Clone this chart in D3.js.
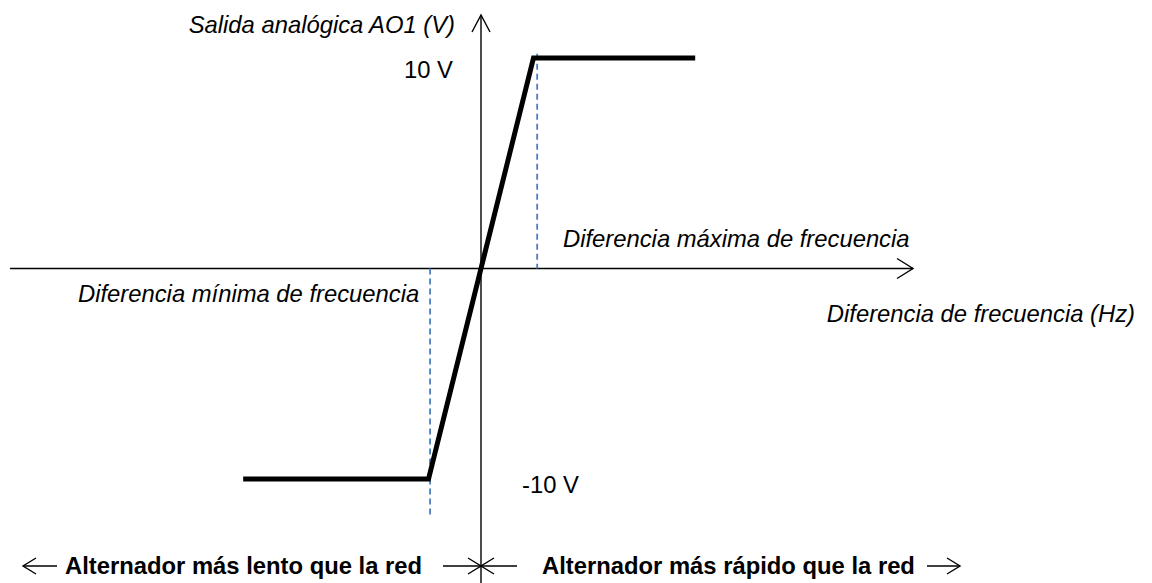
<!DOCTYPE html>
<html>
<head>
<meta charset="utf-8">
<script src="https://cdn.jsdelivr.net/npm/d3@7"></script>
<style>
  html, body { margin: 0; padding: 0; background: #fff; }
  svg { display: block; }
  text { font-family: "Liberation Sans", Arial, sans-serif; fill: #000; }
</style>
</head>
<body>
<svg id="chart" width="1152" height="583"></svg>
<script>
// ---- data ----
const freqDiff = [-4.53, -1, 1, 4.08];          // normalized frequency difference
const aoVolts  = [-10, -10, 10, 10];             // analog output AO1 (V)
const markerFreq = [-0.97, 1.07];                // min / max frequency difference markers
const markerFrom = [0, 10.2];
const markerTo   = [-11.8, 0];
const yTickValues = [10, -10];
const yTickLabels = ["10 V", "-10 V"];

const W = 1152, H = 583;
const FS = 23.8;
const svg = d3.select("#chart");

const x = d3.scaleLinear().domain([-9, 9]).range([481 - 9 * 52.5, 481 + 9 * 52.5]);
const y = d3.scaleLinear().domain([-10, 10]).range([479, 58]);

const x0 = x(0), y0 = y(0);

// axes
const axisG = svg.append("g").attr("stroke", "#000").attr("stroke-width", 1.4).attr("fill", "none");
axisG.append("line").attr("x1", 10).attr("x2", 913).attr("y1", y0).attr("y2", y0);
axisG.append("path").attr("d", `M${913 - 16},${y0 - 10} L913,${y0} L${913 - 16},${y0 + 10}`);
axisG.append("line").attr("x1", x0).attr("x2", x0).attr("y1", 15).attr("y2", H);
axisG.append("path").attr("d", `M${x0 - 9},32 L${x0},15 L${x0 + 9},32`);

// dashed markers
svg.selectAll("line.marker").data(markerFreq).enter().append("line")
  .attr("class", "marker")
  .attr("x1", d => x(d)).attr("x2", d => x(d))
  .attr("y1", (d, i) => y(markerFrom[i])).attr("y2", (d, i) => y(markerTo[i]))
  .attr("stroke", "#4a7ebf").attr("stroke-width", 1.8)
  .attr("stroke-dasharray", "6,4");

// characteristic
const pts = freqDiff.map((f, i) => [f, aoVolts[i]]);
svg.append("path").datum(pts)
  .attr("d", d3.line().x(d => x(d[0])).y(d => y(d[1])))
  .attr("fill", "none").attr("stroke", "#000").attr("stroke-width", 5)
  .attr("stroke-linejoin", "miter");

// tick labels
svg.append("text").attr("x", 453).attr("y", 78).attr("text-anchor", "end")
  .attr("font-size", FS).text(yTickLabels[0]);
svg.append("text").attr("x", 522).attr("y", 493).attr("text-anchor", "start")
  .attr("font-size", FS).text(yTickLabels[1]);

// axis titles / annotations
const it = (tx, ty, s, anchor) => svg.append("text").attr("x", tx).attr("y", ty)
  .attr("text-anchor", anchor || "start").attr("font-style", "italic")
  .attr("font-size", FS).text(s);
it(455, 33, "Salida analógica AO1 (V)", "end");
it(563, 247, "Diferencia máxima de frecuencia");
it(78, 302, "Diferencia mínima de frecuencia");
it(1135, 322, "Diferencia de frecuencia (Hz)", "end");

// bottom annotations
const by = 566;
const b = (tx, s, anchor) => svg.append("text").attr("x", tx).attr("y", 574)
  .attr("text-anchor", anchor || "start").attr("font-weight", "bold")
  .attr("font-size", FS).text(s);
b(65, "Alternador más lento que la red");
b(542, "Alternador más rápido que la red");

const arr = svg.append("g").attr("stroke", "#000").attr("stroke-width", 1.4).attr("fill", "none");
function arrow(xa, xb) { // from xa to tip xb
  const dir = xb > xa ? 1 : -1;
  arr.append("line").attr("x1", xa).attr("x2", xb).attr("y1", by).attr("y2", by);
  arr.append("path").attr("d", `M${xb - dir * 13},${by - 8} L${xb},${by} L${xb - dir * 13},${by + 8}`);
}
arrow(57, 23);
arrow(443, x0);
arrow(517, x0);
arrow(927, 960);
</script>
</body>
</html>
